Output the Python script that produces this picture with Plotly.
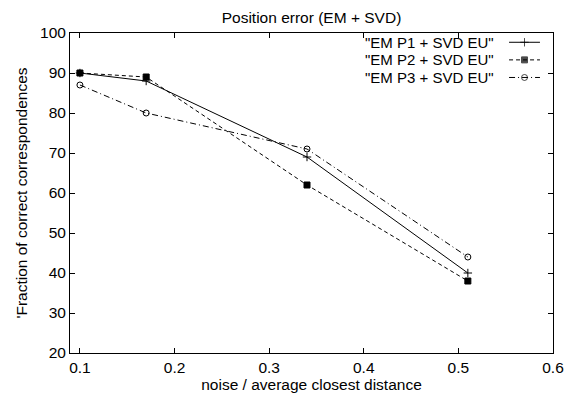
import plotly.graph_objects as go

x_vals = [0.1, 0.17, 0.34, 0.51]
p1 = [90, 88, 69, 40]
p2 = [90, 89, 62, 38]
p3 = [87, 80, 71, 44]
names = ['"EM P1 + SVD EU"', '"EM P2 + SVD EU"', '"EM P3 + SVD EU"']
x_ticks = [0.1, 0.2, 0.3, 0.4, 0.5, 0.6]
y_ticks = [20, 30, 40, 50, 60, 70, 80, 90, 100]

FS = 15.5
LFS = 15

styles = [
    dict(dash="solid", symbol="cross-thin-open", size=6),
    dict(dash="4px,3px", symbol="square", size=6),
    dict(dash="6px,3px,1px,3px", symbol="circle-open", size=6),
]

fig = go.Figure()
for ys, nm, st in zip([p1, p2, p3], names, styles):
    fig.add_trace(go.Scatter(
        x=x_vals, y=ys, name=nm, mode="lines+markers",
        line=dict(color="black", width=1, dash=st["dash"]),
        marker=dict(symbol=st["symbol"], size=st["size"], color="black",
                    line=dict(color="black", width=1)),
        showlegend=False,
    ))

# custom legend (text on the left, sample on the right, as in gnuplot)
leg_y = [0.971, 0.916, 0.861]
for i, (nm, st) in enumerate(zip(names, styles)):
    fig.add_trace(go.Scatter(
        x=[0.0, 0.5, 1.0], y=[leg_y[i]] * 3, xaxis="x2", yaxis="y2",
        mode="lines+markers", showlegend=False, hoverinfo="skip",
        line=dict(color="black", width=1, dash=st["dash"]),
        marker=dict(symbol=st["symbol"], size=[0, st["size"], 0], color="black",
                    line=dict(color="black", width=1)),
    ))
    fig.add_annotation(text=nm, xref="paper", yref="paper", x=0.88, y=leg_y[i],
                       xanchor="right", yanchor="middle", showarrow=False,
                       borderpad=0, font=dict(size=LFS, color="black"))

axis_common = dict(showline=True, linecolor="black", linewidth=1, mirror="ticks",
                   ticks="inside", ticklen=5, tickcolor="black", showgrid=False,
                   zeroline=False, tickfont=dict(size=FS, color="black"))

# page body adds an 8px offset, so the figure is sized to fit the window
fig.update_layout(
    width=572, height=395,
    margin=dict(l=62, r=27, t=25, b=50),
    paper_bgcolor="white", plot_bgcolor="white",
    font=dict(family="Liberation Sans, Arial, sans-serif", size=FS, color="black"),
    title=dict(text="Position error (EM + SVD)", xref="paper", x=0.5, xanchor="center",
               yref="container", y=0.99, yanchor="top", font=dict(size=FS)),
    xaxis=dict(range=[0.0895, 0.6], tickvals=x_ticks, ticktext=[str(t) for t in x_ticks],
               title=dict(text="noise / average closest distance", standoff=4,
                          font=dict(size=FS)), **axis_common),
    yaxis=dict(range=[20, 100], tickvals=y_ticks,
               title=dict(text="'Fraction of correct correspondences", standoff=8,
                          font=dict(size=FS)), **axis_common),
    xaxis2=dict(domain=[0.909, 0.973], range=[0, 1], visible=False, anchor="y2"),
    yaxis2=dict(domain=[0, 1], range=[0, 1], visible=False, anchor="x2"),
)

fig.write_html("out.html")
